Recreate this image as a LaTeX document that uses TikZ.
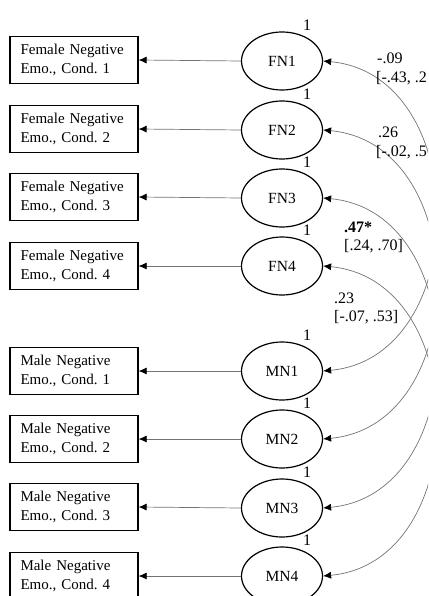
\documentclass[tikz,border=0pt]{standalone}
\usepackage{fontspec}
\setmainfont{Liberation Serif}
\frenchspacing
\usetikzlibrary{shapes.geometric,arrows.meta}
\tikzset{
  obsbox/.style={draw=black, line width=1.2pt, rectangle, minimum width=128pt, minimum height=47pt,
    text width=107pt, align=left, inner xsep=10.5pt, font=\fontsize{15}{19}\selectfont},
  latent/.style={draw=black, line width=1.2pt, ellipse, minimum width=81pt, minimum height=58pt,
    inner sep=0pt, font=\fontsize{15.5}{18}\selectfont},
  load/.style={draw=black!55, line width=0.7pt, -{Latex[length=8pt,width=7pt,black]}},
  cov/.style={draw=black!55, line width=0.7pt, {Latex[length=8pt,width=7pt,black]}-{Latex[length=8pt,width=7pt,black]}},
  onelab/.style={font=\fontsize{16}{18}\selectfont, inner sep=0pt},
  estlab/.style={font=\fontsize{16}{18}\selectfont, inner sep=0pt, anchor=west}
}
\begin{document}
\begin{tikzpicture}[x=1pt,y=-1pt]
\useasboundingbox (0,0) rectangle (428,596);
\clip (0,0) rectangle (428,596);
% latent variables
\node[latent] (FN1) at (282,61) {FN1};
\node[latent] (FN2) at (282,130) {FN2};
\node[latent] (FN3) at (282,198) {FN3};
\node[latent] (FN4) at (282,266) {FN4};
\node[latent] (MN1) at (282,371) {MN1};
\node[latent] (MN2) at (282,439) {MN2};
\node[latent] (MN3) at (282,508) {MN3};
\node[latent] (MN4) at (282,576) {MN4};
% observed boxes
\node[obsbox] (BF1) at (74,60) {Female Negative\\Emo., Cond. 1};
\node[obsbox] (BF2) at (74,129) {Female Negative\\Emo., Cond. 2};
\node[obsbox] (BF3) at (74,197) {Female Negative\\Emo., Cond. 3};
\node[obsbox] (BF4) at (74,266) {Female Negative\\Emo., Cond. 4};
\node[obsbox] (BM1) at (74,371) {Male Negative\\Emo., Cond. 1};
\node[obsbox] (BM2) at (74,439) {Male Negative\\Emo., Cond. 2};
\node[obsbox] (BM3) at (74,507) {Male Negative\\Emo., Cond. 3};
\node[obsbox] (BM4) at (74,576) {Male Negative\\Emo., Cond. 4};
% loadings
\foreach \a/\b in {FN1/BF1,FN2/BF2,FN3/BF3,FN4/BF4,MN1/BM1,MN2/BM2,MN3/BM3,MN4/BM4}{
  \draw[load] (\a.west) -- (\b.east);
  \node[onelab] at ([xshift=25pt,yshift=35.5pt]\a.center) {1};
}
% covariances
\foreach \a/\b in {FN1/MN1,FN2/MN2,FN3/MN3,FN4/MN4}{
  \draw[cov] (\a.east) .. controls ([xshift=150pt,yshift=-14pt]\a.east) and ([xshift=150pt,yshift=14pt]\b.east) .. (\b.east);
}
% estimates
\node[estlab] (e1) at (377,58) {-.09};
\node[estlab] (c1) at (376,78) {[-.43, .2};
\node[estlab] (e2) at (378,132) {.26};
\node[estlab] (c2) at (376,152) {[-.02, .5};
\node[estlab] (e3) at (344,227) {\textbf{.47*}};
\node[estlab] (c3) at (344,246) {[.24, .70]};
\node[estlab] (e4) at (334,298) {.23};
\node[estlab] (c4) at (334,317) {[-.07, .53]};
\end{tikzpicture}
\end{document}
